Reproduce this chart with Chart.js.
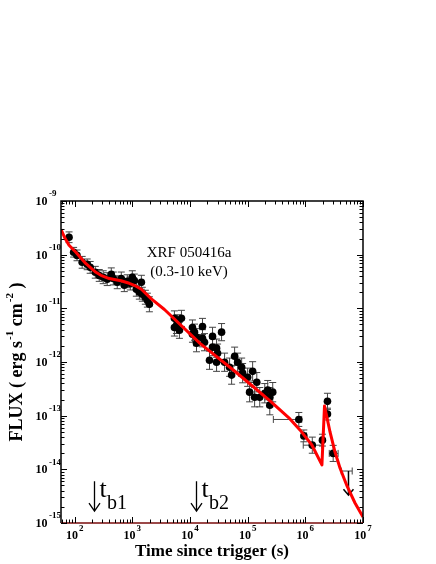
<!DOCTYPE html>
<html><head><meta charset="utf-8">
<script src="https://cdn.jsdelivr.net/npm/chart.js@4"></script>
<style>html,body{margin:0;padding:0;background:#fff}#wrap{width:436px;height:564px}</style>
</head><body><div id="wrap"><canvas id="c" width="436" height="564"></canvas></div>
<script>
// ---- data (time since trigger in s, flux in erg s^-1 cm^-2) ----
const times = [80,96,110,135,165,186,228,267,313,367,432,468,548,644,726,818,923,1000,1084,1175,1436,1324,1493,1683,1824,1977,
  5370,5820,6070,7110,5370,6560,11040,11970,11040,12970,16480,16480,17860,12970,24600,24600,28900,35300,30100,21800,28900,39800,48600,59400,67000,78700,52700,81800,100000,122000,144000,108000,132000,162000,198000,223000,242000,272000,242000,
  771000,942000,1.32e6,1.98e6,2.42e6,2.42e6,3.04e6];
const fluxes = [2.11e-10,1.11e-10,9.7e-11,7.2e-11,6.6e-11,5.8e-11,4.7e-11,4.1e-11,3.8e-11,3.5e-11,4.3e-11,3.6e-11,3.06e-11,3.6e-11,2.7e-11,3.2e-11,2.9e-11,3.8e-11,3.3e-11,2.27e-11,3.06e-11,2.0e-11,1.83e-11,1.61e-11,1.42e-11,1.19e-11,
  6.5e-12,4.8e-12,5.5e-12,6.5e-12,4.4e-12,3.9e-12,4.4e-12,3.6e-12,3.3e-12,2.9e-12,4.6e-12,2.77e-12,2.34e-12,2.24e-12,3.0e-12,1.89e-12,1.81e-12,3.6e-12,1.46e-12,1.08e-12,9.9e-13,9.9e-13,8.0e-13,1.28e-12,9.9e-13,8.0e-13,5.7e-13,6.2e-13,5.2e-13,6.7e-13,4.2e-13,2.74e-13,2.21e-13,2.21e-13,2.62e-13,2.99e-13,2.21e-13,2.74e-13,1.57e-13,
  8.5e-14,4.2e-14,2.82e-14,3.5e-14,1.85e-13,1.07e-13,1.98e-14];
// symmetric flux error in dex
const fluxErrDex = [0.10,0.09,0.10,0.11,0.10,0.11,0.11,0.11,0.12,0.12,0.12,0.12,0.12,0.12,0.12,0.12,0.12,0.12,0.12,0.13,0.13,0.13,0.13,0.13,0.13,0.14,
  0.14,0.15,0.14,0.15,0.16,0.15,0.14,0.15,0.15,0.16,0.15,0.16,0.16,0.16,0.17,0.16,0.17,0.16,0.17,0.17,0.17,0.17,0.17,0.17,0.17,0.17,0.17,0.18,0.17,0.18,0.18,0.18,0.18,0.18,0.18,0.18,0.18,0.18,0.18,
  0.13,0.11,0.15,0.11,0.15,0.11,0.15];
// horizontal error bounds (null = none drawn)
const timeLo = {65:2.79e5, 66:8.8e5, 67:9.2e5, 68:1.88e6, 71:2.6e6};
const timeHi = {65:8.65e5, 66:1.05e6, 67:1.92e6, 68:2.06e6, 71:3.7e6};
// upper limit
const ulTime = [5.6e6], ulTimeLo = [4.2e6], ulTimeHi = [6.5e6], ulFlux = [9.3e-15], ulArrowTo = [3.3e-15];
// model curve
const modelTimes = [58,68,80,105,157,234,286,398,635,887,1084,1436,2113,3606,14900,56400,110000,244000,542000,807000,1.30e6,1.94e6,2.15e6,2.38e6,2.68e6,3.27e6,3.99e6,5.28e6,7.27e6,1.0e7];
const modelFlux = [2.95e-10,2.02e-10,1.5e-10,1.11e-10,6.8e-11,4.7e-11,4.13e-11,3.59e-11,3.27e-11,2.93e-11,2.69e-11,2.27e-11,1.52e-11,9.5e-12,2.23e-12,7.1e-13,3.89e-13,1.88e-13,8.7e-14,5.42e-14,2.84e-14,1.21e-14,1.51e-13,9.1e-14,4.97e-14,2.10e-14,1.06e-14,4.9e-15,2.36e-15,1.29e-15];
// break times
const breakTimes = [218, 12700];
const breakLabels = ['b1', 'b2'];
const breakArrowTop = 10**-14.22, breakArrowBottom = 10**-14.78;
// ticks
const xTickExps = [2,3,4,5,6,7];
const yTickExps = [-15,-14,-13,-12,-11,-10,-9];
const xMin = 58, xMax = 1e7, yMin = 1e-15, yMax = 1e-9;

const SERIF = '"Liberation Serif","Times New Roman",serif';

const decor = {
  id: 'decor',
  beforeDatasetsDraw(chart) {
    const ctx = chart.ctx, xs = chart.scales.x, ys = chart.scales.y;
    ctx.save();
    ctx.strokeStyle = '#444'; ctx.lineWidth = 1;
    for (let i = 0; i < times.length; i++) {
      const x = xs.getPixelForValue(times[i]);
      const yt = ys.getPixelForValue(fluxes[i] * 10**fluxErrDex[i]);
      const yb = ys.getPixelForValue(fluxes[i] / 10**fluxErrDex[i]);
      ctx.beginPath();
      ctx.moveTo(x, yt); ctx.lineTo(x, yb);
      ctx.moveTo(x - 3.5, yt); ctx.lineTo(x + 3.5, yt);
      ctx.moveTo(x - 3.5, yb); ctx.lineTo(x + 3.5, yb);
      ctx.stroke();
      if (timeLo[i] != null) {
        const y = ys.getPixelForValue(fluxes[i]);
        const xl = xs.getPixelForValue(timeLo[i]), xr = xs.getPixelForValue(timeHi[i]);
        ctx.beginPath();
        ctx.moveTo(xl, y); ctx.lineTo(xr, y);
        ctx.moveTo(xl, y - 3.5); ctx.lineTo(xl, y + 3.5);
        ctx.moveTo(xr, y - 3.5); ctx.lineTo(xr, y + 3.5);
        ctx.stroke();
      }
    }
    // upper limit
    for (let i = 0; i < ulTime.length; i++) {
      const x = xs.getPixelForValue(ulTime[i]);
      const xl = xs.getPixelForValue(ulTimeLo[i]), xr = xs.getPixelForValue(ulTimeHi[i]);
      const y = ys.getPixelForValue(ulFlux[i]), y2 = ys.getPixelForValue(ulArrowTo[i]);
      ctx.strokeStyle = '#444'; ctx.lineWidth = 1;
      ctx.beginPath();
      ctx.moveTo(xl, y); ctx.lineTo(xr, y);
      ctx.moveTo(xl, y - 3.5); ctx.lineTo(xl, y + 3.5);
      ctx.moveTo(xr, y - 3.5); ctx.lineTo(xr, y + 3.5);
      ctx.stroke();
      ctx.strokeStyle = '#000'; ctx.lineWidth = 1.5;
      ctx.beginPath();
      ctx.moveTo(x, y); ctx.lineTo(x, y2);
      ctx.moveTo(x - 5, y2 - 6); ctx.lineTo(x, y2); ctx.lineTo(x + 5, y2 - 6);
      ctx.stroke();
    }
    ctx.restore();
  },
  afterDraw(chart) {
    const ctx = chart.ctx, xs = chart.scales.x, ys = chart.scales.y, a = chart.chartArea;
    ctx.save();
    // frame
    ctx.strokeStyle = '#000'; ctx.lineWidth = 1.5;
    ctx.beginPath();
    ctx.moveTo(a.left, a.bottom); ctx.lineTo(a.left, a.top); ctx.lineTo(a.right, a.top); ctx.lineTo(a.right, a.bottom);
    ctx.stroke();
    ctx.strokeStyle = '#7a0c0c';
    ctx.beginPath(); ctx.moveTo(a.left, a.bottom); ctx.lineTo(a.right, a.bottom); ctx.stroke();
    // ticks
    ctx.strokeStyle = '#000'; ctx.lineWidth = 1;
    const MAJ = 6, MIN = 3.5;
    ctx.beginPath();
    for (let d = 1; d <= 7; d++) {
      for (let k = 1; k <= 9; k++) {
        const v = k * 10**d;
        if (v < xMin || v > xMax) continue;
        const x = Math.round(xs.getPixelForValue(v)) + 0.5;
        const L = k === 1 ? MAJ : MIN;
        ctx.moveTo(x, a.bottom); ctx.lineTo(x, a.bottom - L);
        ctx.moveTo(x, a.top); ctx.lineTo(x, a.top + L);
      }
    }
    for (let e = -15; e <= -9; e++) {
      for (let k = 1; k <= 9; k++) {
        const v = k * 10**e;
        if (v < yMin * 0.999 || v > yMax * 1.001) continue;
        const y = Math.round(ys.getPixelForValue(v)) + 0.5;
        const L = k === 1 ? MAJ : MIN;
        ctx.moveTo(a.left, y); ctx.lineTo(a.left + L, y);
        ctx.moveTo(a.right, y); ctx.lineTo(a.right - L, y);
      }
    }
    ctx.stroke();
    // tick labels
    ctx.fillStyle = '#000';
    const base = 'bold 12px ' + SERIF, supf = 'bold 9px ' + SERIF;
    for (const e of yTickExps) {
      const y = ys.getPixelForValue(10**e);
      ctx.font = base; ctx.textAlign = 'right'; ctx.textBaseline = 'middle';
      ctx.fillText('10', 47.5, y + 1);
      ctx.font = supf; ctx.textAlign = 'left';
      ctx.fillText(String(e), 49, y - 7);
    }
    for (const e of xTickExps) {
      const x = xs.getPixelForValue(10**e);
      ctx.font = base; const w1 = ctx.measureText('10').width;
      ctx.font = supf; const w2 = ctx.measureText(String(e)).width;
      const x0 = x - (w1 + 1 + w2) / 2;
      ctx.font = base; ctx.textAlign = 'left'; ctx.textBaseline = 'middle';
      ctx.fillText('10', x0, 536);
      ctx.font = supf;
      ctx.fillText(String(e), x0 + w1 + 1, 529);
    }
    // axis titles
    ctx.font = 'bold 17px ' + SERIF; ctx.textAlign = 'center'; ctx.textBaseline = 'alphabetic';
    ctx.fillText('Time since trigger (s)', 212, 556);
    // y title with superscripts
    ctx.save();
    ctx.translate(22, 362); ctx.rotate(-Math.PI / 2);
    const parts = [['FLUX ( erg s', 0], ['-1', 1], [' cm', 0], ['-2', 1], [' )', 0]];
    const fb = 'bold 18px ' + SERIF, fs = 'bold 11px ' + SERIF;
    let total = 0;
    for (const [t, s] of parts) { ctx.font = s ? fs : fb; total += ctx.measureText(t).width + (s ? 1 : 0); }
    let px = -total / 2;
    ctx.textAlign = 'left'; ctx.textBaseline = 'alphabetic';
    for (const [t, s] of parts) {
      ctx.font = s ? fs : fb;
      ctx.fillText(t, px + (s ? 1 : 0), s ? -9 : 0);
      px += ctx.measureText(t).width + (s ? 1 : 0);
    }
    ctx.restore();
    // annotation text
    ctx.font = '15px ' + SERIF; ctx.textAlign = 'center'; ctx.textBaseline = 'middle';
    ctx.fillText('XRF 050416a', 189, 253);
    ctx.fillText('(0.3-10 keV)', 189, 272);
    // break-time arrows
    for (let i = 0; i < breakTimes.length; i++) {
      const x = Math.round(xs.getPixelForValue(breakTimes[i])) + 0.5;
      const yt = ys.getPixelForValue(breakArrowTop), yb = ys.getPixelForValue(breakArrowBottom);
      ctx.strokeStyle = '#000'; ctx.lineWidth = 1.3;
      ctx.beginPath();
      ctx.moveTo(x, yt); ctx.lineTo(x, yb);
      ctx.moveTo(x - 5.5, yb - 8); ctx.lineTo(x, yb); ctx.lineTo(x + 5.5, yb - 8);
      ctx.stroke();
      ctx.textAlign = 'left'; ctx.textBaseline = 'alphabetic';
      ctx.font = '26px ' + SERIF;
      ctx.fillText('t', x + 5, yt + 16);
      ctx.font = '20px ' + SERIF;
      ctx.fillText(breakLabels[i], x + 12.5, yb - 2.5);
    }
    ctx.restore();
  }
};

const pts = times.map((t, i) => ({x: t, y: fluxes[i]}));
const model = modelTimes.map((t, i) => ({x: t, y: modelFlux[i]}));

new Chart(document.getElementById('c'), {
  type: 'scatter',
  data: {
    datasets: [
      {label: 'model', type: 'line', data: model, borderColor: '#ff0000', borderWidth: 3, pointRadius: 0, tension: 0, fill: false, borderJoinStyle: 'round', order: 0},
      {label: 'XRT', data: pts, backgroundColor: '#000', borderColor: '#000', pointRadius: 3.8, pointBorderWidth: 0, order: 1}
    ]
  },
  options: {
    responsive: false, animation: false, devicePixelRatio: 1,
    layout: {padding: {left: 61, right: 73, top: 201, bottom: 41}},
    plugins: {legend: {display: false}, tooltip: {enabled: false}},
    scales: {
      x: {type: 'logarithmic', min: xMin, max: xMax, display: false},
      y: {type: 'logarithmic', min: yMin, max: yMax, display: false}
    }
  },
  plugins: [decor]
});
</script>
</body></html>
